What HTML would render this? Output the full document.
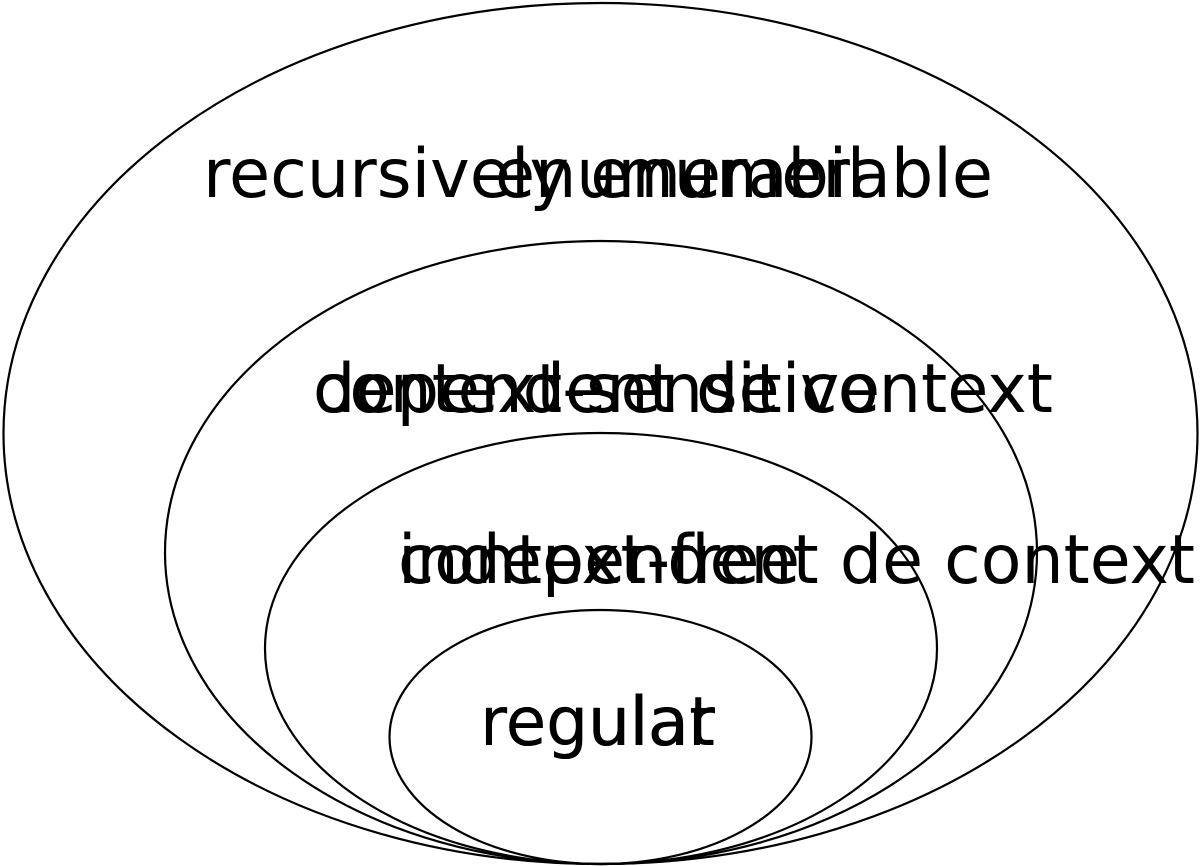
<!DOCTYPE html>
<html><head><meta charset="utf-8"><style>html,body{margin:0;padding:0;background:#fff}svg{display:block}</style></head>
<body>
<svg width="1200" height="866" viewBox="0 0 1200 866" xmlns="http://www.w3.org/2000/svg">
<g fill="none" stroke="#000" stroke-width="2.2">
<ellipse cx="600.5" cy="433.5" rx="597" ry="430.5"/>
<ellipse cx="601" cy="552.5" rx="436" ry="311.5"/>
<ellipse cx="601" cy="648.5" rx="336" ry="215.5"/>
<ellipse cx="600.5" cy="737" rx="211" ry="127"/>
</g>
<g font-family="DejaVu Sans, sans-serif" font-size="68" fill="#000">
<text x="203" y="197" textLength="790" lengthAdjust="spacingAndGlyphs">recursively enumerable</text>
<text x="495" y="197" textLength="370" lengthAdjust="spacingAndGlyphs">enumerabil</text>
<text x="313" y="412" textLength="567" lengthAdjust="spacingAndGlyphs">context-sensitive</text>
<text x="313" y="412" textLength="740" lengthAdjust="spacingAndGlyphs">dependent de context</text>
<text x="398" y="583" textLength="402" lengthAdjust="spacingAndGlyphs">context-free</text>
<text x="398" y="583" textLength="797" lengthAdjust="spacingAndGlyphs">independent de context</text>
<text x="480" y="745" textLength="235" lengthAdjust="spacingAndGlyphs">regular</text>
<text x="480" y="745" textLength="235" lengthAdjust="spacingAndGlyphs">regulat</text>
</g>
</svg>
</body></html>
